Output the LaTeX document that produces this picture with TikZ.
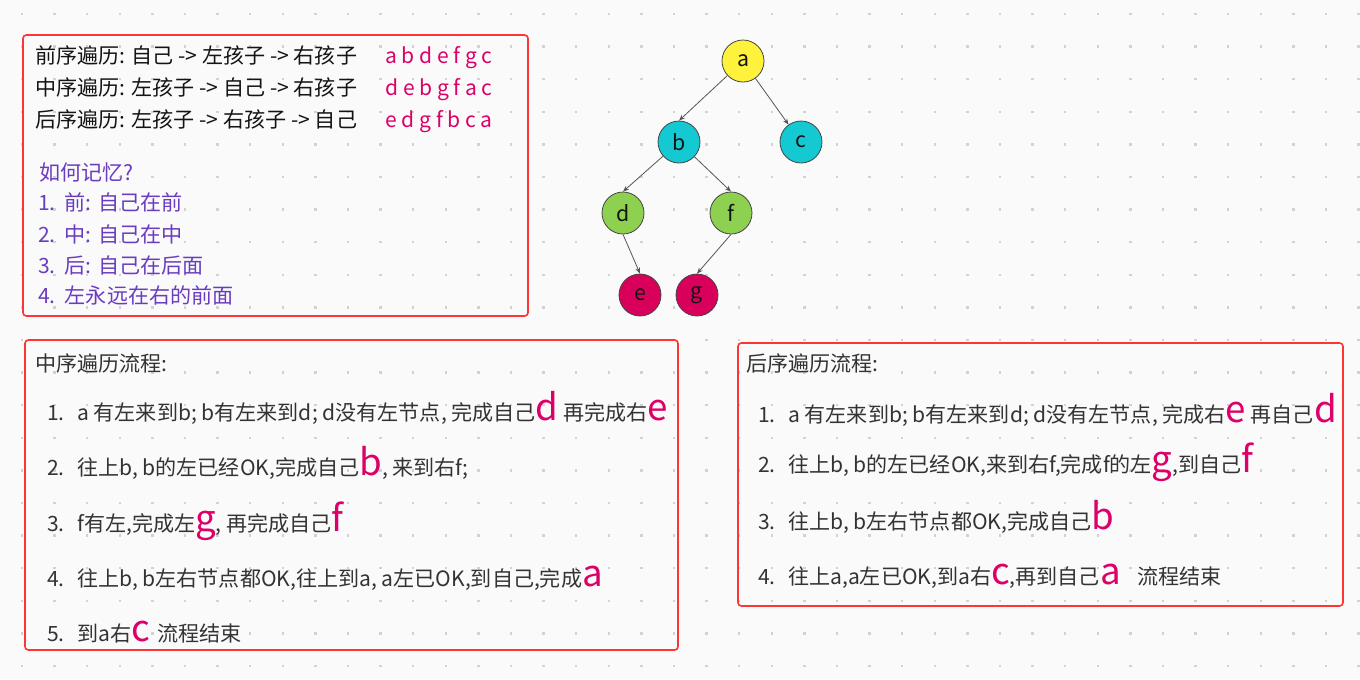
\documentclass[tikz,border=0pt]{standalone}
\usepackage{fontspec}
\setmainfont{Noto Sans CJK SC}
\usetikzlibrary{arrows.meta}
\definecolor{bgc}{HTML}{FAFAFA}
\definecolor{dotc}{HTML}{D2D2D2}
\definecolor{boxred}{HTML}{FF3535}
\definecolor{txtdark}{HTML}{141414}
\definecolor{txtgray}{HTML}{333333}
\definecolor{pk}{HTML}{DC0068}
\definecolor{purp}{HTML}{6A3CC0}
\definecolor{nyellow}{HTML}{FFF23C}
\definecolor{ncyan}{HTML}{14C9D2}
\definecolor{ngreen}{HTML}{8ED04F}
\definecolor{ncrim}{HTML}{D8005B}
\definecolor{nborder}{HTML}{444444}
\definecolor{edgegray}{HTML}{555555}
\newcommand\bigpk[1]{{\fontsize{27.5}{27.5}\selectfont\color{pk}#1}}
\newcommand\numlow[1]{\makebox[22.5pt][l]{#1}}
\newcommand\numpur[1]{\makebox[20pt][l]{#1}}
\begin{document}
\begin{tikzpicture}[x=0.75pt,y=-0.75pt,
  txt/.style={anchor=base west, inner sep=0pt, font=\fontsize{15.8}{18}\selectfont, text=txtdark},
  ltxt/.style={txt, text=txtgray},
  ptxt/.style={txt, text=purp},
  pktxt/.style={txt, text=pk},
  tnode/.style={circle, draw=nborder, line width=0.6pt, minimum size=31.5pt, inner sep=0pt, font=\fontsize{16}{18}\selectfont, text=txtdark},
  conn/.style={draw=edgegray, line width=0.6pt, -{Stealth[length=4.5pt,width=3.5pt]}},
  redbox/.style={draw=boxred, line width=1.2pt, rounded corners=2.5pt}]
\fill[bgc] (0,0) rectangle (1360,679);
\useasboundingbox (0,0) rectangle (1360,679);
\foreach \i in {0,...,41}{
  \foreach \j in {0,...,20}{
    \fill[dotc] ({22+\i*32.6-1.2},{14+\j*32.6-1.2}) rectangle ++(2.4,2.4);
  }
}
% boxes
\draw[redbox] (23,35) rectangle (528,316);
\draw[redbox] (25,340) rectangle (678,650);
\draw[redbox] (738,343) rectangle (1343,606);
% top box
\node[txt] (t1) at (35,63) {前序遍历: 自己 -> 左孩子 -> 右孩子};
\node[txt] (t2) at (35,95) {中序遍历: 左孩子 -> 自己 -> 右孩子};
\node[txt] (t3) at (35,127) {后序遍历: 左孩子 -> 右孩子 -> 自己};
\node[pktxt] (s1) at (385,63) {a b d e f g c};
\node[pktxt] (s2) at (385,95) {d e b g f a c};
\node[pktxt] (s3) at (385,127) {e d g f b c a};
\node[ptxt] (m0) at (39,180) {如何记忆?};
\node[ptxt] (m1) at (38,210) {\numpur{1.}前: 自己在前};
\node[ptxt] (m2) at (38,242) {\numpur{2.}中: 自己在中};
\node[ptxt] (m3) at (38,273) {\numpur{3.}后: 自己在后面};
\node[ptxt] (m4) at (38,303) {\numpur{4.}左永远在右的前面};
% tree
\node[tnode, fill=nyellow] (a) at (743,61) {a};
\node[tnode, fill=ncyan] (b) at (679,142) {b};
\node[tnode, fill=ncyan] (c) at (801,142) {c};
\node[tnode, fill=ngreen] (d) at (623,213) {d};
\node[tnode, fill=ngreen] (f) at (731,213) {f};
\node[tnode, fill=ncrim] (e) at (640,295) {e};
\node[tnode, fill=ncrim] (g) at (697,295) {g};
\draw[conn] (a) -- (b.north);
\draw[conn] (a) -- (c);
\draw[conn] (b) -- (d.north);
\draw[conn] (b) -- (f.north);
\draw[conn] (d.south) -- (e.north);
\draw[conn] (f.south) -- (g.north);
% in-order box
\node[ltxt] (l0) at (35,371) {中序遍历流程:};
\node[ltxt] (l1) at (47,420) {\numlow{1.}a 有左来到b; b有左来到d; d没有左节点, 完成自己\bigpk{d} 再完成右\bigpk{e}};
\node[ltxt] (l2) at (47,475) {\numlow{2.}往上b, b的左已经OK,完成自己\bigpk{b}, 来到右f;};
\node[ltxt] (l3) at (47,531) {\numlow{3.}f有左,完成左\bigpk{g}, 再完成自己\bigpk{f}};
\node[ltxt] (l4) at (47,586) {\numlow{4.}往上b, b左右节点都OK,往上到a, a左已OK,到自己,完成\bigpk{a}};
\node[ltxt] (l5) at (47,641) {\numlow{5.}到a右\bigpk{c}\hspace{2pt} 流程结束};
% post-order box
\node[ltxt] (r0) at (746,371) {后序遍历流程:};
\node[ltxt] (r1) at (758,422) {\numlow{1.}a 有左来到b; b有左来到d; d没有左节点, 完成右\bigpk{e} 再自己\bigpk{d}};
\node[ltxt] (r2) at (758,472) {\numlow{2.}往上b, b的左已经OK,来到右f,完成f的左\bigpk{g},到自己\bigpk{f}};
\node[ltxt] (r3) at (758,529) {\numlow{3.}往上b, b左右节点都OK,完成自己\bigpk{b}};
\node[ltxt] (r4) at (758,584) {\numlow{4.}往上a,a左已OK,到a右\bigpk{c},再到自己\bigpk{a}\hspace{9pt} 流程结束};
\end{tikzpicture}
\end{document}
